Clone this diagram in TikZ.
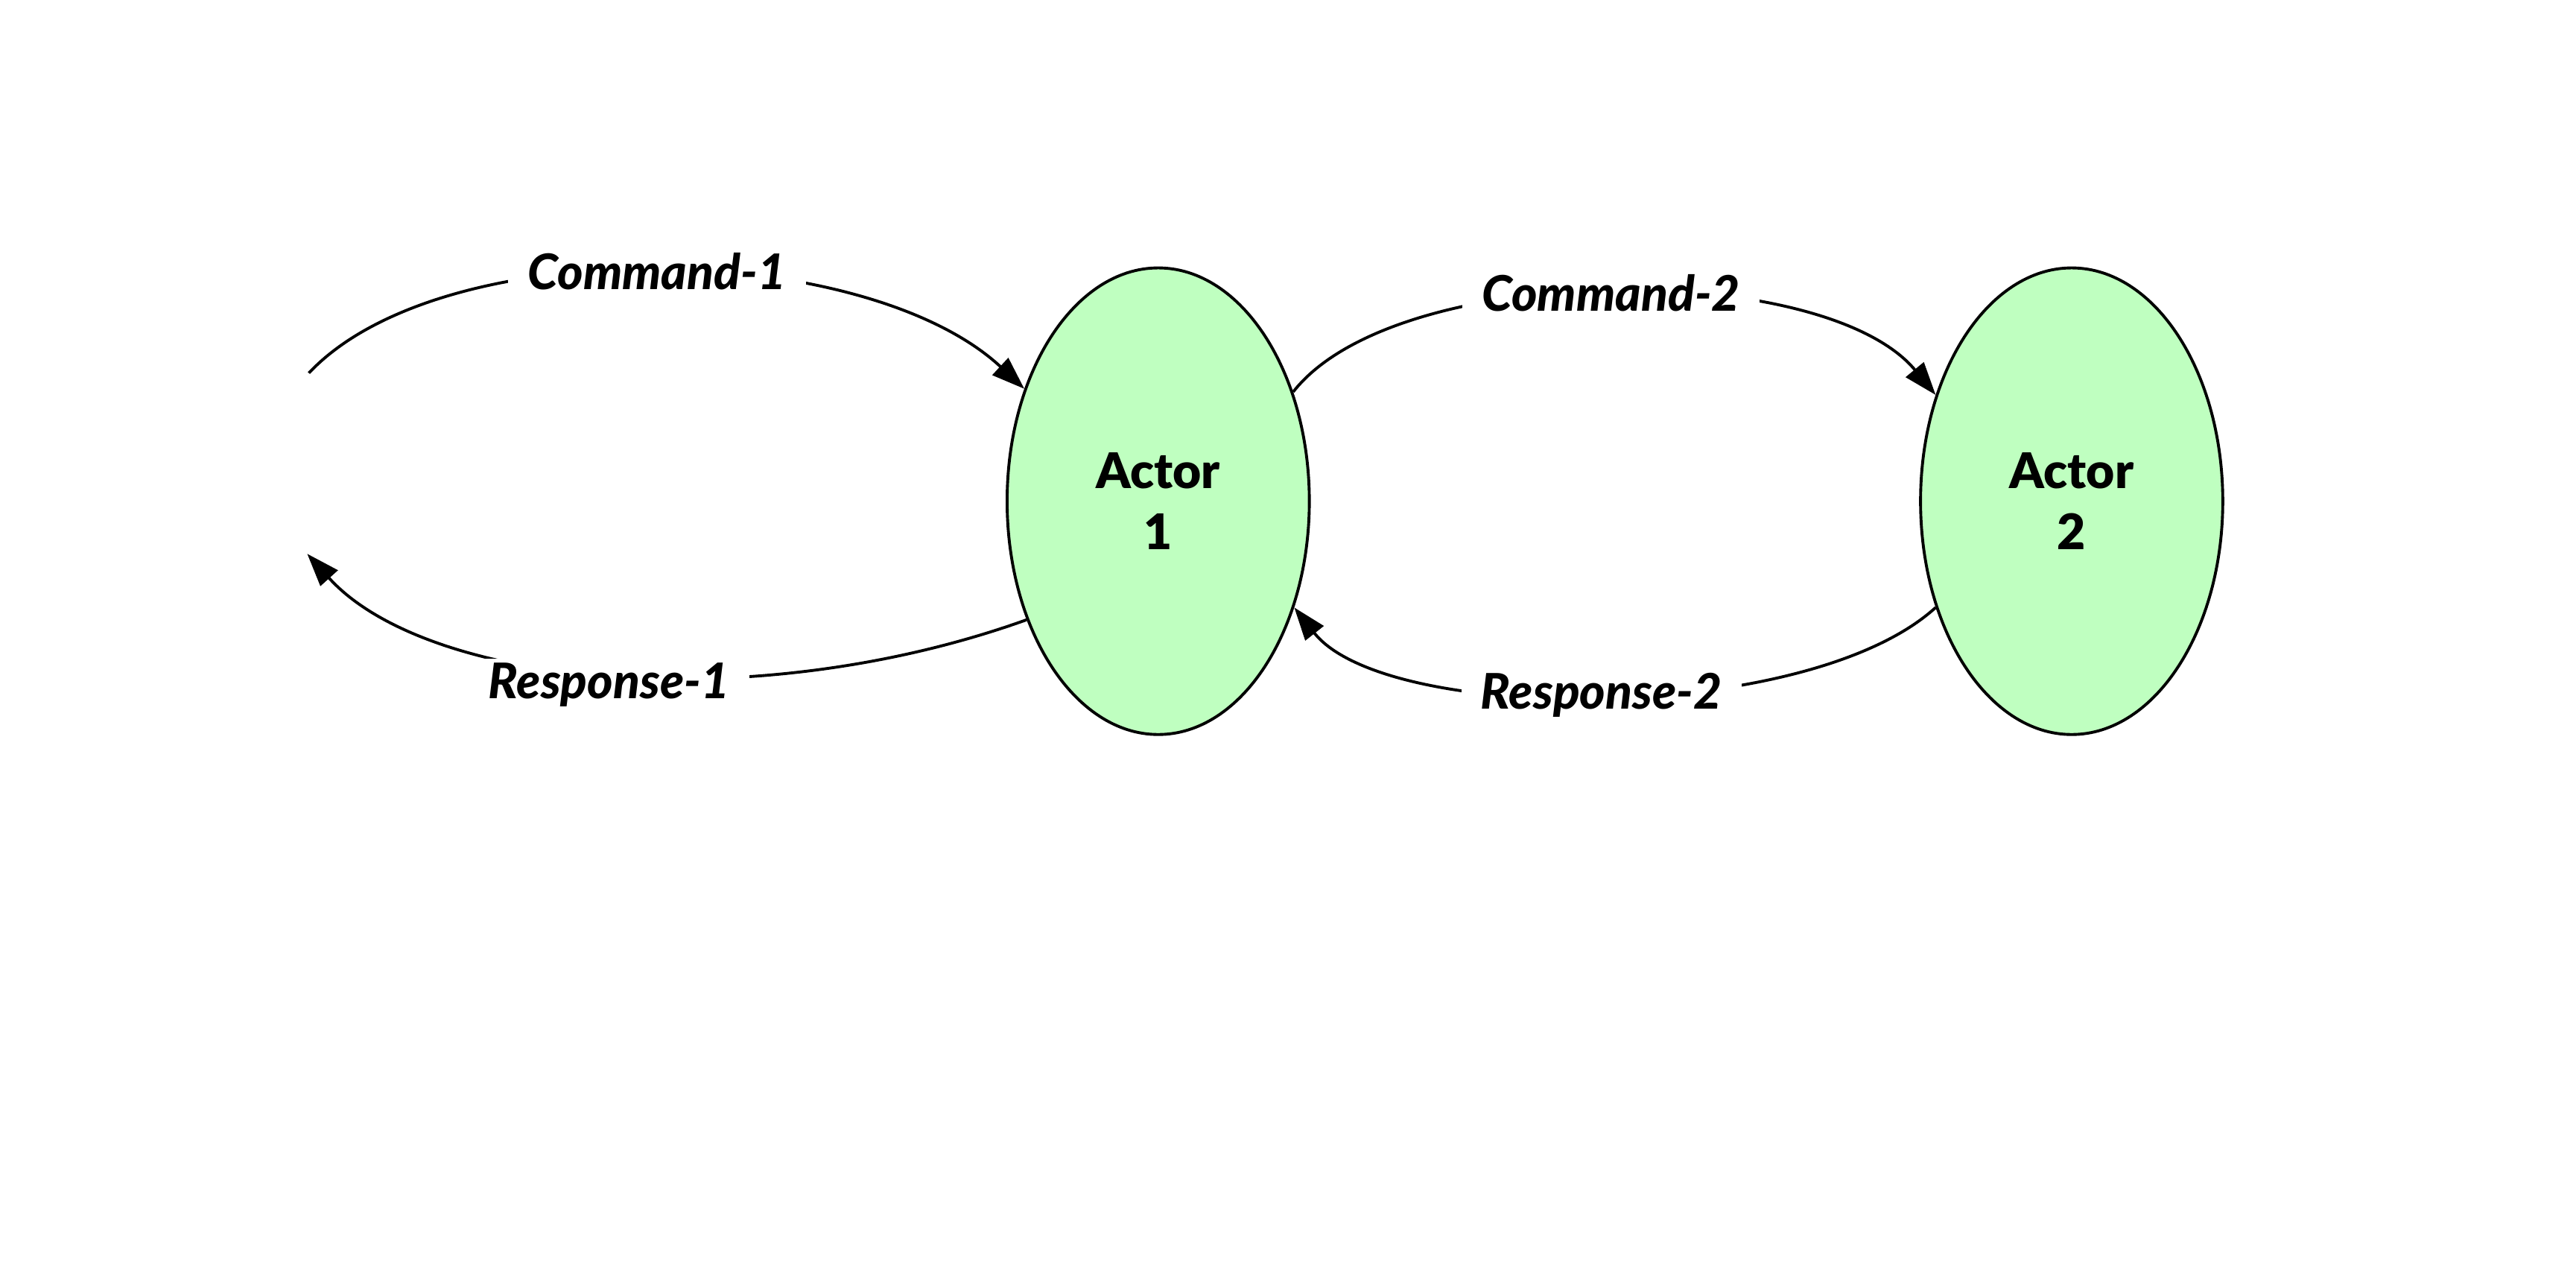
\documentclass[tikz,border=0pt]{standalone}
\usepackage{fontspec}
\setmainfont{Lato}[BoldFont={Lato Black}, BoldItalicFont={Lato Black Italic}]
\usetikzlibrary{arrows.meta,shapes.geometric}
\definecolor{actorgreen}{RGB}{191,255,192}
\begin{document}
\begin{tikzpicture}[x=0.02cm,y=-0.02cm,
   actor/.style={draw, ellipse, line width=1pt, fill=actorgreen,
      minimum width=3.68cm, minimum height=5.68cm, inner sep=0pt,
      align=center, font=\fontsize{17}{21}\selectfont\bfseries},
   lbl/.style={fill=white, inner xsep=0.24cm, inner ysep=0.05cm,
      font=\fontsize{17}{21}\selectfont\bfseries\itshape},
   arr/.style={line width=1pt, -{Triangle[length=4mm,width=2.8mm]}}]

\useasboundingbox (0,0) rectangle (1568,770);

\node[actor] (a1) at (705,305) {Actor\\1};
\node[actor] (a2) at (1261,305) {Actor\\2};

\coordinate (cmdin) at (188,227);
\coordinate (respout) at (187,337);

% commands go right
\draw[arr] (cmdin) .. controls (270,140) and (526,146) ..
    node[lbl] (cmd1) {Command-1} (a1.140);
\draw[arr] (a1.39) .. controls (850,158) and (1110,158) ..
    node[lbl] (cmd2) {Command-2} (a2.142);

% responses come back
\draw[arr] (a2.218) .. controls (1100,441) and (844,441) ..
    node[lbl] (resp2) {Response-2} (a1.322);
\draw[arr] (a1.222) .. controls (458,437) and (260,418) ..
    node[lbl, yshift=-0.14cm] (resp1) {Response-1} (respout);

\end{tikzpicture}
\end{document}
